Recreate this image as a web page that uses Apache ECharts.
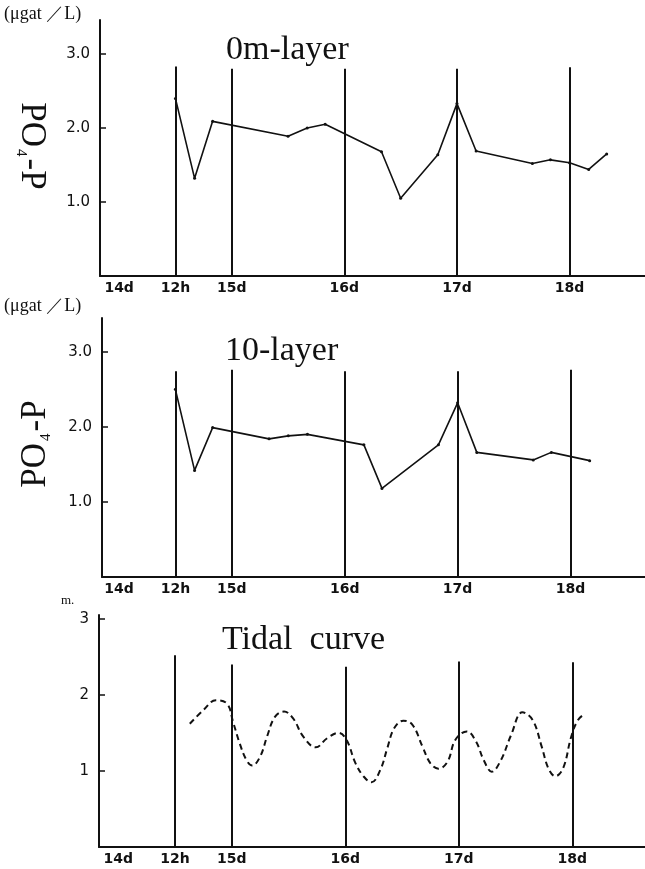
<!DOCTYPE html>
<html>
<head>
<meta charset="utf-8">
<script src="https://cdn.jsdelivr.net/npm/echarts@6/dist/echarts.min.js"></script>
<style>
html,body{margin:0;padding:0;background:#fff;}
#main{width:645px;height:869px;}
</style>
</head>
<body>
<div id="main"></div>
<script>
// x 轴刻度 (日)
var xTickValues = [14, 14.5, 15, 16, 17, 18];
var xTickLabels = ['14d', '12h', '15d', '16d', '17d', '18d'];
var markDays = [14.5, 15, 16, 17, 18];

// 0m 层 PO4-P
var layer0Day = [14.5, 14.67, 14.83, 15.5, 15.67, 15.83, 16.33, 16.5, 16.83, 17.0, 17.17, 17.67, 17.83, 18.0, 18.17, 18.33];
var layer0Val = [2.40, 1.32, 2.09, 1.89, 2.00, 2.05, 1.68, 1.05, 1.64, 2.33, 1.69, 1.52, 1.57, 1.53, 1.44, 1.65];
var layer0MarkTop = [2.83, 2.8, 2.8, 2.8, 2.82];

// 10 层 PO4-P
var layer10Day = [14.5, 14.67, 14.83, 15.33, 15.5, 15.67, 16.17, 16.33, 16.83, 17.0, 17.17, 17.67, 17.83, 18.17];
var layer10Val = [2.50, 1.42, 1.99, 1.84, 1.88, 1.90, 1.76, 1.18, 1.76, 2.32, 1.66, 1.56, 1.66, 1.55];
var layer10MarkTop = [2.74, 2.76, 2.74, 2.74, 2.76];

// 潮位曲线 (m)
var tideDay = [14.63, 14.75, 14.86, 14.96, 15.01, 15.07, 15.13, 15.18, 15.25, 15.31, 15.38, 15.46, 15.54, 15.63, 15.74, 15.84, 15.94, 16.01, 16.09, 16.16, 16.23, 16.31, 16.37, 16.43, 16.51, 16.59, 16.68, 16.75, 16.82, 16.90, 16.97, 17.07, 17.15, 17.22, 17.29, 17.37, 17.46, 17.56, 17.65, 17.73, 17.79, 17.85, 17.92, 17.99, 18.05, 18.11];
var tideVal = [1.62, 1.80, 1.93, 1.88, 1.65, 1.36, 1.14, 1.07, 1.19, 1.45, 1.71, 1.78, 1.69, 1.45, 1.31, 1.43, 1.50, 1.41, 1.10, 0.93, 0.85, 1.02, 1.30, 1.56, 1.66, 1.61, 1.32, 1.10, 1.03, 1.12, 1.41, 1.52, 1.39, 1.14, 0.99, 1.14, 1.47, 1.77, 1.67, 1.32, 1.03, 0.93, 1.04, 1.45, 1.67, 1.75];
var tideMarkTop = [2.52, 2.4, 2.37, 2.44, 2.43];

var yTicksPO = [1, 2, 3];
var yTicksTide = [1, 2, 3];

var myChart = echarts.init(document.getElementById('main'));

function pairs(xs, ys) {
    var out = [];
    for (var i = 0; i < xs.length; i++) out.push([xs[i], ys[i]]);
    return out;
}
function vlines(tops) {
    var out = [];
    for (var i = 0; i < markDays.length; i++) {
        out.push([{coord: [markDays[i], 0]}, {coord: [markDays[i], tops[i]]}]);
    }
    return out;
}
function xAxisOf(idx, min, max) {
    return {
        type: 'value', gridIndex: idx, min: min, max: max,
        axisLine: {show: true, onZero: false, lineStyle: {color: '#111', width: 2}},
        axisTick: {show: false},
        splitLine: {show: false},
        axisLabel: {
            customValues: xTickValues,
            margin: 5,
            color: '#111', fontSize: 14, fontWeight: 'bold', fontFamily: 'DejaVu Sans',
            formatter: function (v) {
                var k = xTickValues.indexOf(v);
                return k >= 0 ? xTickLabels[k] : '';
            }
        }
    };
}
function yAxisOf(idx, max, ticks, digits) {
    return {
        type: 'value', gridIndex: idx, min: 0, max: max,
        axisLine: {show: true, lineStyle: {color: '#111', width: 2}},
        axisTick: {show: true, inside: true, length: 6, customValues: ticks, lineStyle: {color: '#111', width: 1.5}},
        splitLine: {show: false},
        axisLabel: {
            customValues: ticks,
            margin: 10,
            color: '#111', fontSize: 15, fontFamily: 'DejaVu Sans',
            formatter: function (v) { return v.toFixed(digits); }
        }
    };
}
var markStyle = {
    silent: true, symbol: 'none', animation: false,
    label: {show: false},
    lineStyle: {color: '#111', width: 2, type: 'solid'}
};
function poLabel(x, y, rot) {
    return {
        type: 'text', x: x, y: y, rotation: rot,
        style: {
            text: '{a|PO}{s|4}{a|-P}',
            align: 'center', verticalAlign: 'middle',
            textAlign: 'center', textVerticalAlign: 'middle',
            fill: '#111',
            rich: {
                a: {fontSize: 35, fontFamily: 'Liberation Serif', fill: '#111'},
                s: {fontSize: 15, fontFamily: 'Liberation Serif', fill: '#111', verticalAlign: 'bottom', padding: [12, 2, 0, 2]}
            }
        }
    };
}
function txt(x, y, text, size, family) {
    return {
        type: 'text', x: x, y: y,
        style: {
            text: text, fill: '#111',
            font: size + 'px ' + family,
            verticalAlign: 'middle', textVerticalAlign: 'middle'
        }
    };
}

var option = {
    animation: false,
    backgroundColor: '#fff',
    grid: [
        {left: 100, top: 20, width: 545, height: 256},
        {left: 102, top: 318, width: 543, height: 259},
        {left: 99, top: 615, width: 546, height: 232}
    ],
    xAxis: [
        xAxisOf(0, 13.83, 18.67),
        xAxisOf(1, 13.85, 18.66),
        xAxisOf(2, 13.83, 18.64)
    ],
    yAxis: [
        yAxisOf(0, 3.46, yTicksPO, 1),
        yAxisOf(1, 3.45, yTicksPO, 1),
        yAxisOf(2, 3.05, yTicksTide, 0)
    ],
    series: [
        {
            name: '0m-layer', type: 'line', xAxisIndex: 0, yAxisIndex: 0,
            data: pairs(layer0Day, layer0Val),
            symbol: 'circle', symbolSize: 3,
            itemStyle: {color: '#111'},
            lineStyle: {color: '#111', width: 1.6},
            markLine: Object.assign({data: vlines(layer0MarkTop)}, markStyle)
        },
        {
            name: '10-layer', type: 'line', xAxisIndex: 1, yAxisIndex: 1,
            data: pairs(layer10Day, layer10Val),
            symbol: 'circle', symbolSize: 3,
            itemStyle: {color: '#111'},
            lineStyle: {color: '#111', width: 1.6},
            markLine: Object.assign({data: vlines(layer10MarkTop)}, markStyle)
        },
        {
            name: 'Tidal curve', type: 'line', xAxisIndex: 2, yAxisIndex: 2,
            data: pairs(tideDay, tideVal),
            smooth: 0.4, showSymbol: false,
            lineStyle: {color: '#111', width: 2, type: [6, 4]},
            markLine: Object.assign({data: vlines(tideMarkTop)}, markStyle)
        }
    ],
    graphic: [
        txt(4, 14, '(μgat ／L)', 18, 'Liberation Serif'),
        txt(4, 306, '(μgat ／L)', 18, 'Liberation Serif'),
        txt(61, 601, 'm.', 13, 'Liberation Serif'),
        txt(226, 50, '0m-layer', 34, 'Liberation Serif'),
        txt(225, 351, '10-layer', 34, 'Liberation Serif'),
        txt(222, 640, 'Tidal  curve', 34, 'Liberation Serif'),
        poLabel(31, 146, -Math.PI / 2),
        poLabel(36, 444, Math.PI / 2)
    ]
};
myChart.setOption(option);
</script>
</body>
</html>
